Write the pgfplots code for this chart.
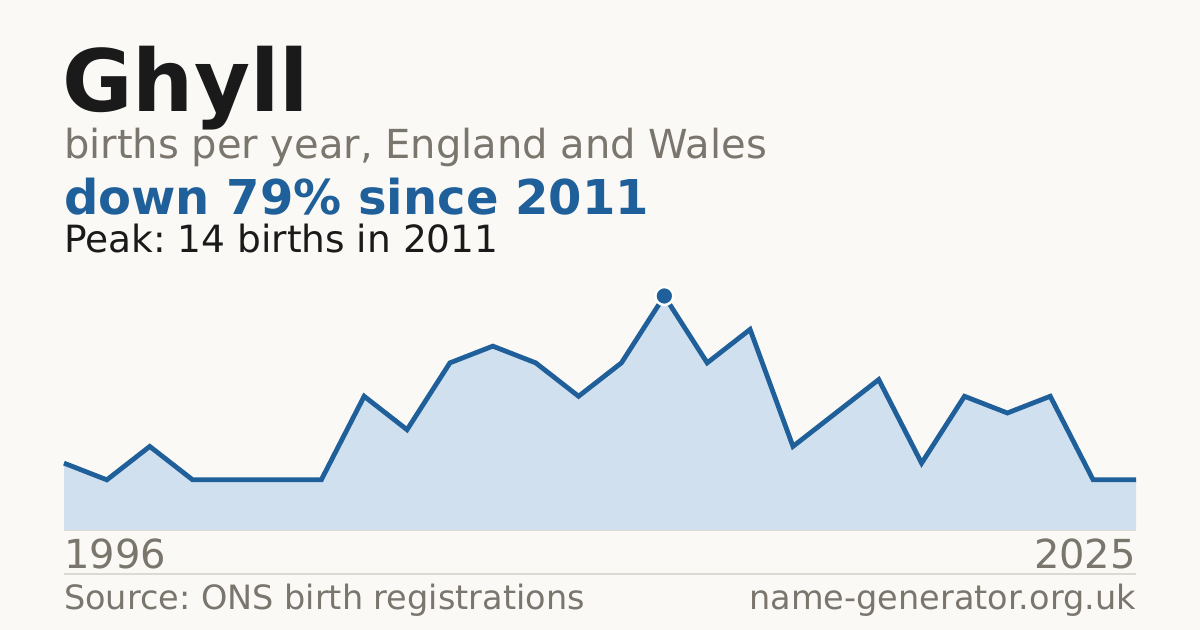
\documentclass[border=0pt]{standalone}
\usepackage{pgfplots}
\usepackage{pgfplotstable}
\pgfplotsset{compat=1.18}
\usepackage{fontspec}
\setmainfont{DejaVu Sans}
\frenchspacing

\definecolor{bg}{HTML}{FAF9F5}
\definecolor{ink}{HTML}{1A1A1A}
\definecolor{muted}{HTML}{7A756D}
\definecolor{accent}{HTML}{20609A}
\definecolor{areafill}{HTML}{D0E0EF}
\definecolor{rulegray}{HTML}{DDDAD3}

% births per year, index 0 = 1996 ... 25 = 2025 (years without data skipped)
\pgfplotstableread{
idx births
0 4
1 3
2 5
3 3
4 3
5 3
6 3
7 8
8 6
9 10
10 11
11 10
12 8
13 10
14 14
15 10
16 12
17 5
18 7
19 9
20 4
21 8
22 7
23 8
24 3
25 3
}\births

\newcommand{\fs}[1]{\fontsize{#1bp}{#1bp}\selectfont}

\begin{document}
\begin{tikzpicture}[x=1bp,y=1bp]
\fill[bg] (0,0) rectangle (1200,630);

\node[anchor=base west, inner sep=0, text=ink, font=\fs{86}\bfseries] at (62,518) {Ghyll};
\node[anchor=base west, inner sep=0, text=muted, font=\fs{40}] at (64,471) {births per year, England and Wales};
\node[anchor=base west, inner sep=0, text=accent, font=\fs{48}\bfseries] at (64,415) {down 79\% since 2011};
\node[anchor=base west, inner sep=0, text=ink, font=\fs{37.5}] at (64,377) {Peak: 14 births in 2011};

\draw[rulegray, line width=1.2] (64,100) -- (1136,100);

\begin{axis}[
    at={(64bp,100bp)}, anchor=south west,
    width=1072bp, height=234bp, scale only axis,
    xmin=0, xmax=25, ymin=0, ymax=14,
    hide axis, clip=false,
]
\addplot[fill=areafill, draw=none] table {\births} \closedcycle;
\addplot[accent, line width=4.8bp] table {\births};
\addplot[only marks, mark=*, mark size=9bp,
    mark options={fill=accent, draw=white, line width=2.5bp}] coordinates {(14,14)};
\end{axis}

\node[anchor=base west, inner sep=0, text=muted, font=\fs{40}] at (64,61) {1996};
\node[anchor=base east, inner sep=0, text=muted, font=\fs{40}] at (1136,61) {2025};
\draw[rulegray, line width=1.2] (64,56) -- (1136,56);
\node[anchor=base west, inner sep=0, text=muted, font=\fs{33.5}] at (64,20) {Source: ONS birth registrations};
\node[anchor=base east, inner sep=0, text=muted, font=\fs{33.5}] at (1136,20) {name-generator.org.uk};
\end{tikzpicture}
\end{document}
